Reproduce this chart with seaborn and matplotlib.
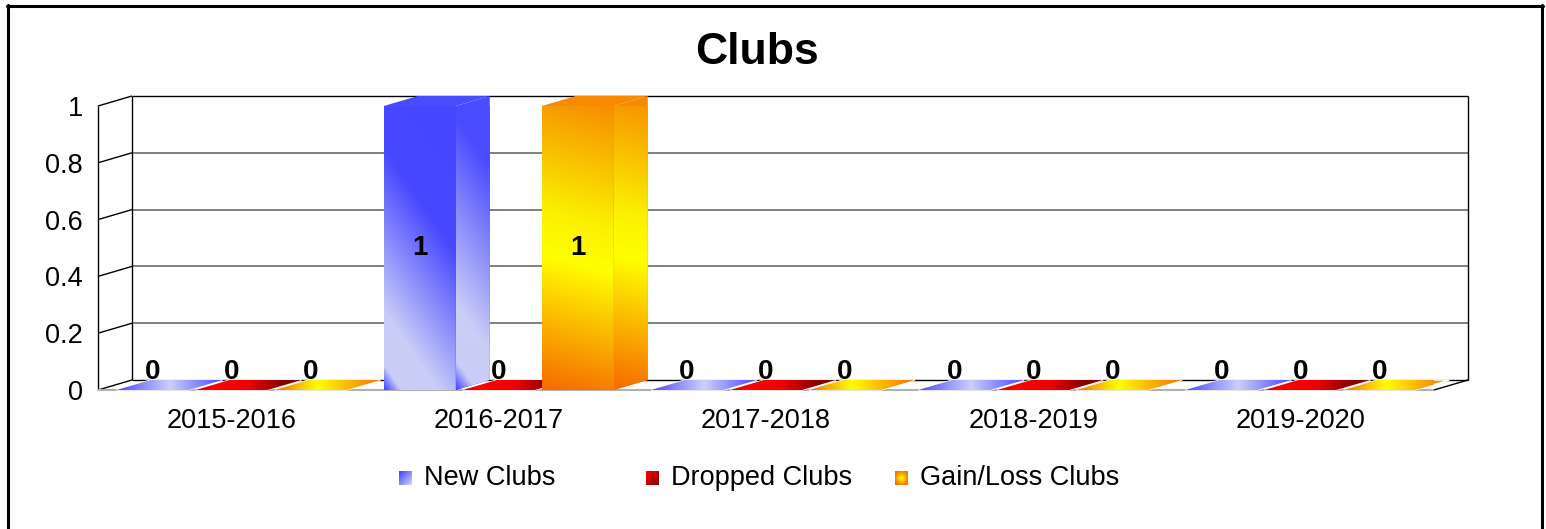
import numpy as np
import pandas as pd
import matplotlib
matplotlib.use("Agg")
from matplotlib import pyplot as plt
from matplotlib.patches import Polygon
from matplotlib.colors import LinearSegmentedColormap, to_rgb
import seaborn as sns

# data
seasons = ["2015-2016", "2016-2017", "2017-2018", "2018-2019", "2019-2020"]
series_names = ["New Clubs", "Dropped Clubs", "Gain/Loss Clubs"]
new_clubs = [0, 1, 0, 0, 0]
dropped_clubs = [0, 0, 0, 0, 0]
gain_loss_clubs = [0, 1, 0, 0, 0]
y_ticks = [0, 0.2, 0.4, 0.6, 0.8, 1]
y_tick_labels = ["0", "0.2", "0.4", "0.6", "0.8", "1"]

df = pd.DataFrame({
    "Season": seasons * 3,
    "Series": np.repeat(series_names, len(seasons)),
    "Clubs": new_clubs + dropped_clubs + gain_loss_clubs,
})

palette = {"New Clubs": "#4a4aff", "Dropped Clubs": "#dd0000", "Gain/Loss Clubs": "#f78a00"}

# gradient stops per series: front, side, top, flat
grads = {
    "New Clubs": {
        "front": ([(0, "#4646ff"), (0.06, "#c9cdf7"), (0.2, "#c9cdf7"), (0.62, "#4848ff"), (1, "#4646ff")], 35),
        "side": ([(0, "#4646ff"), (0.08, "#c9cdf7"), (0.25, "#c9cdf7"), (0.8, "#4a4aff"), (1, "#4a4aff")], 35),
        "top": ([(0, "#5a5aff"), (0.45, "#c9cdf7"), (1, "#4a4aff")], 0),
        "flat": ([(0, "#4a4aff"), (0.5, "#cdd0f8"), (1, "#4a4aff")], 0),
    },
    "Dropped Clubs": {
        "front": ([(0, "#ff0000"), (1, "#800000")], 35),
        "side": ([(0, "#cc0000"), (1, "#800000")], 35),
        "top": ([(0, "#ff0000"), (1, "#800000")], 0),
        "flat": ([(0, "#d00000"), (0.15, "#ff0000"), (0.5, "#ee0000"), (0.85, "#800000"), (1, "#900000")], 0),
    },
    "Gain/Loss Clubs": {
        "front": ([(0, "#f76a00"), (0.45, "#ffff00"), (0.6, "#fbf000"), (1, "#f78e00")], 75),
        "side": ([(0, "#f76a00"), (0.45, "#ffff00"), (0.6, "#fbf000"), (1, "#f78e00")], 75),
        "top": ([(0, "#f79000"), (0.5, "#ffff00"), (1, "#f79000")], 0),
        "flat": ([(0, "#f07000"), (0.4, "#ffff00"), (1, "#f77000")], 0),
    },
}

sns.set_style("white")
plt.rcParams["font.family"] = ["Liberation Sans", "DejaVu Sans"]
plt.rcParams["text.color"] = "black"
plt.rcParams["xtick.color"] = "black"
plt.rcParams["ytick.color"] = "black"
plt.rcParams["axes.labelcolor"] = "black"

W, H = 1546, 529
fig = plt.figure(figsize=(W / 100, H / 100), dpi=100)


def px_box(x0, y0, x1, y1):
    return [x0 / W, 1 - y1 / H, (x1 - x0) / W, (y1 - y0) / H]


ax = fig.add_axes(px_box(98, 106, 1434, 390))
sns.barplot(data=df, x="Season", y="Clubs", hue="Series", palette=palette,
            width=0.887, gap=0.089, saturation=1, errorbar=None, legend=False, ax=ax)

PX_X = 1336 / 5
PX_Y = 284
DX = 34 / PX_X
DY = 10 / PX_Y


def grad_fill(target, poly_xy, stops, angle, z, axis=ax, px=(PX_X, PX_Y)):
    xs, ys = poly_xy[:, 0], poly_xy[:, 1]
    x0, x1, y0, y1 = xs.min(), xs.max(), ys.min(), ys.max()
    wpx, hpx = (x1 - x0) * px[0], abs(y1 - y0) * px[1]
    gx, gy = np.meshgrid(np.linspace(0, wpx, 80), np.linspace(0, hpx, 160))
    a = np.radians(angle)
    t = gx * np.cos(a) + gy * np.sin(a)
    t = (t - t.min()) / (t.max() - t.min() + 1e-9)
    cmap = LinearSegmentedColormap.from_list("g", stops)
    im = axis.imshow(t, cmap=cmap, vmin=0, vmax=1, extent=(x0, x1, y0, y1),
                     origin="lower", aspect="auto", interpolation="bilinear", zorder=z)
    im.set_clip_path(target)
    im.set_clip_box(None)
    return im


base_rgb = {s: np.array(to_rgb(c)) for s, c in palette.items()}
bars = []
for p in list(ax.patches):
    fc = np.array(p.get_facecolor()[:3])
    s = min(base_rgb, key=lambda k: np.abs(base_rgb[k] - fc).sum())
    bars.append((p.get_x(), s, p))
bars.sort(key=lambda b: b[0])

z = 2.0
for x0, s, p in bars:
    w, h = p.get_width(), p.get_height()
    x1 = x0 + w
    g = grads[s]
    p.set_linewidth(0)
    p.set_zorder(z)
    if h > 0:
        front = np.array([[x0, 0], [x1, 0], [x1, h], [x0, h]])
        grad_fill(p, front, *g["front"], z + 0.01)
        side_xy = np.array([[x1, 0], [x1 + DX, DY], [x1 + DX, h + DY], [x1, h]])
        side = Polygon(side_xy, closed=True, facecolor=palette[s], lw=0, zorder=z + 0.02, clip_on=False)
        ax.add_patch(side)
        grad_fill(side, side_xy, *g["side"], z + 0.03)
        top_xy = np.array([[x0, h], [x1, h], [x1 + DX, h + DY], [x0 + DX, h + DY]])
        top = Polygon(top_xy, closed=True, facecolor=palette[s], lw=0, zorder=z + 0.04, clip_on=False)
        ax.add_patch(top)
        grad_fill(top, top_xy, *g["top"], z + 0.05)
        ax.text(x0 + w / 2, h / 2, f"{h:g}", ha="center", va="center",
                fontsize=20, fontweight="bold", zorder=20)
    else:
        flat_xy = np.array([[x0, 0], [x1, 0], [x1 + DX, DY], [x0 + DX, DY]])
        flat = Polygon(flat_xy, closed=True, facecolor=palette[s], edgecolor="white",
                       lw=1, zorder=z + 0.02, clip_on=False)
        ax.add_patch(flat)
        grad_fill(flat, flat_xy, *g["flat"], z + 0.03)
        ax.text(x0 + w / 2, 0.062, "0", ha="center", va="center",
                fontsize=20, fontweight="bold", zorder=20)
    z += 0.1

# back wall, floor and gridlines
L, R = -0.5, 4.5
line_kw = dict(clip_on=False, solid_capstyle="butt")
for v in y_ticks[1:-1]:
    ax.plot([L + DX, R + DX], [v + DY, v + DY], color="#6a6a6a", lw=1.2, zorder=0.5, **line_kw)
ax.plot([L + DX, R + DX], [1 + DY, 1 + DY], color="black", lw=1, zorder=0.5, **line_kw)
ax.plot([L + DX, R + DX], [DY, DY], color="black", lw=1, zorder=0.5, **line_kw)
ax.plot([L + DX, L + DX], [DY, 1 + DY], color="black", lw=1, zorder=0.5, **line_kw)
ax.plot([R + DX, R + DX], [DY, 1 + DY], color="black", lw=1, zorder=0.5, **line_kw)
for v in y_ticks:
    ax.plot([L, L + DX], [v, v + DY], color="black", lw=1, zorder=0.5, **line_kw)
ax.plot([L, L], [0, 1], color="black", lw=1, zorder=0.5, **line_kw)
ax.plot([L, R], [0, 0], color="#b0b0b0", lw=1.5, zorder=1.5, **line_kw)
ax.plot([R, R + DX], [0, DY], color="black", lw=1, zorder=0.5, **line_kw)

ax.set_xlim(L, R)
ax.set_ylim(0, 1)
ax.set_yticks(y_ticks)
ax.set_yticklabels(y_tick_labels)
ax.tick_params(axis="y", length=0, pad=11, labelsize=19.5, labelcolor="black")
ax.tick_params(axis="x", length=0, pad=13, labelsize=19.5, labelcolor="black")
ax.set_xlabel("")
ax.set_ylabel("")
for sp in ax.spines.values():
    sp.set_visible(False)
ax.patch.set_alpha(0)

# overlay in pixel coords: border + legend
ov = fig.add_axes([0, 0, 1, 1])
ov.set_xlim(0, W)
ov.set_ylim(H, 0)
ov.axis("off")
ov.patch.set_alpha(0)
ov.plot([8, 8], [5, H], color="black", lw=2.2)
ov.plot([7, 1543], [6, 6], color="black", lw=2.2)
ov.plot([1542, 1542], [5, H], color="black", lw=2.2)

legend_pos = [(399, 424), (646, 671), (895, 920)]
legend_stops = {
    "New Clubs": ([(0, "#4040ff"), (1, "#d0d4f8")], "diag"),
    "Dropped Clubs": ([(0, "#ff0000"), (1, "#800000")], "diag"),
    "Gain/Loss Clubs": ([(0, "#ffff00"), (1, "#f77000")], "radial"),
}
for s, (mx, tx) in zip(series_names, legend_pos):
    stops, kind = legend_stops[s]
    gx, gy = np.meshgrid(np.linspace(0, 1, 20), np.linspace(0, 1, 20))
    if kind == "diag":
        t = (gx + gy) / 2
    else:
        t = np.clip(np.hypot(gx - 0.5, gy - 0.5) / 0.6, 0, 1)
    ov.imshow(t, cmap=LinearSegmentedColormap.from_list("l", stops), vmin=0, vmax=1,
              extent=(mx, mx + 13, 485, 471), origin="upper", aspect="auto",
              interpolation="bilinear")
    ov.text(tx, 478, s, ha="left", va="center", fontsize=19.5)
ov.set_xlim(0, W)
ov.set_ylim(H, 0)

fig.text(757 / W, 1 - 53 / H, "Clubs", ha="center", va="center", fontsize=32, fontweight="bold")

fig.savefig("out.png", dpi=100)
